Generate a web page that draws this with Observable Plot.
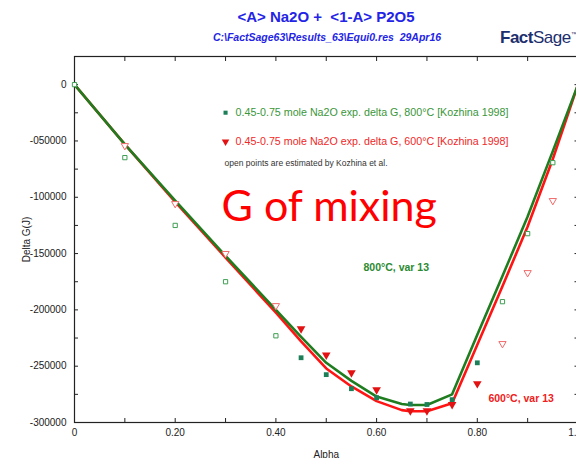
<!DOCTYPE html>
<html>
<head>
<meta charset="utf-8">
<script src="https://cdn.jsdelivr.net/npm/d3@7"></script>
<script src="https://cdn.jsdelivr.net/npm/@observablehq/plot@0.6"></script>
<style>
  body { margin: 0; background: #fff; }
  #wrap { position: relative; width: 576px; height: 458px; overflow: hidden; font-family: "Liberation Sans", Arial, sans-serif; }
  #wrap svg { position: absolute; left: 0; top: 0; }
  .ov { position: absolute; white-space: nowrap; }
  #title { left: 0; width: 652px; top: 8px; text-align: center; color: #2424e6; font-weight: bold; font-size: 15px; }
  #sub { left: 0; width: 654px; top: 31px; text-align: center; color: #2424e6; font-weight: bold; font-style: italic; font-size: 10.5px; }
  #logo { left: 500px; top: 28px; color: #1d2f6e; font-size: 17px; letter-spacing: -0.5px; }
  #logo b { font-weight: 900; }
  #logo sup { font-size: 6px; }
</style>
</head>
<body>
<div id="wrap">
  <div class="ov" id="title">&lt;A&gt; Na2O +&nbsp; &lt;1-A&gt; P2O5</div>
  <div class="ov" id="sub">C:\FactSage63\Results_63\Equi0.res&nbsp; 29Apr16</div>
  <div class="ov" id="logo"><b>Fact</b>Sage<sup>™</sup></div>
</div>
<script>
// calculated curves
const alphaLine = [0, 0.1, 0.2, 0.3, 0.4, 0.45, 0.5, 0.55, 0.6, 0.65, 0.667, 0.7, 0.75, 0.8, 0.85, 0.9, 0.95, 1];
const calc800 = [0, -53000, -103000, -152000, -200000, -224000, -247000, -263000, -277000, -283500, -284500, -284500, -275000, -222000, -170000, -117000, -59000, 0];
const calc600 = [0, -53000, -104000, -153500, -202500, -228000, -252000, -268000, -281000, -289000, -290000, -290000, -283000, -231000, -179000, -126000, -66000, 0];
// experimental points
const expAlpha = [0.45, 0.5, 0.55, 0.6, 0.667, 0.7, 0.75, 0.8];
const exp800 = [-242500, -257500, -270000, -278000, -283600, -284000, -279700, -247000];
const exp600 = [-216700, -240000, -255800, -271000, -289500, -289500, -284000, -265500];
// estimated (open) points
const est800Alpha = [0, 0.1, 0.2, 0.3, 0.4, 0.85, 0.9, 0.95];
const est800 = [0, -64800, -125000, -175000, -223000, -192700, -132300, -69300];
const est600Alpha = [0.1, 0.2, 0.3, 0.4, 0.85, 0.9, 0.95];
const est600 = [-54200, -105700, -150000, -196300, -230000, -167000, -103000];
// ticks
const xMajorTicks = [0, 0.2, 0.4, 0.6, 0.8, 1.0];
const xAllTicks = [0, 0.1, 0.2, 0.3, 0.4, 0.5, 0.6, 0.7, 0.8, 0.9, 1.0];
const yMajorTicks = [0, -50000, -100000, -150000, -200000, -250000, -300000];
const yAllTicks = [0, -25000, -50000, -75000, -100000, -125000, -150000, -175000, -200000, -225000, -250000, -275000, -300000];
// texts
const legendLabels = ["0.45-0.75 mole Na2O exp. delta G, 800°C [Kozhina 1998]", "0.45-0.75 mole Na2O exp. delta G, 600°C [Kozhina 1998]"];
const legendNote = "open points are estimated by Kozhina et al.";
const legendX = [0.300, 0.320];
const legendY = [-24900, -50600, -70200];
const bigLabel = {text: "G of mixing", x: 0.292, y: -108500};
const curveLabels = [
  {text: "800°C, var 13", x: 0.574, y: -162500, color: "#2b8a32"},
  {text: "600°C, var 13", x: 0.822, y: -279000, color: "#f02020"}
];

const GREEN = "#1f7d1f", RED = "#ff1414";
const line800 = alphaLine.map((a, i) => ({a, g: calc800[i]}));
const line600 = alphaLine.map((a, i) => ({a, g: calc600[i]}));
const pts800 = expAlpha.map((a, i) => ({a, g: exp800[i]}));
const pts600 = expAlpha.map((a, i) => ({a, g: exp600[i]}));
const open800 = est800Alpha.map((a, i) => ({a, g: est800[i]}));
const open600 = est600Alpha.map((a, i) => ({a, g: est600[i]}));

const yFmt = d => d === 0 ? "0" : "-" + String(-d).padStart(6, "0");
const xFmt = d => d === 0 ? "0" : d.toFixed(2);
const blank = () => "";

const chart = Plot.plot({
  width: 576,
  height: 458,
  marginLeft: 74,
  marginRight: -1.5,
  marginTop: 56,
  marginBottom: 36,
  style: {fontFamily: "'Liberation Sans', Arial, sans-serif", fontSize: "10px", color: "#222", background: "transparent"},
  x: {domain: [0, 1]},
  y: {domain: [-300000, 25000]},
  marks: [
    Plot.frame({stroke: "#222", strokeWidth: 1.2}),
    Plot.axisX(xAllTicks, {anchor: "bottom", tickSize: 4, insetBottom: 4, tickFormat: blank, label: null}),
    Plot.axisX(xAllTicks, {anchor: "top", tickSize: 4, insetTop: 4, tickFormat: blank, label: null}),
    Plot.axisY(yAllTicks, {anchor: "left", tickSize: 4, insetLeft: 4, tickFormat: blank, label: null}),
    Plot.axisY(yAllTicks, {anchor: "right", tickSize: 4, insetRight: 4, tickFormat: blank, label: null}),
    Plot.axisX(xMajorTicks, {anchor: "bottom", tickSize: 0, tickPadding: 6, tickFormat: xFmt, fontSize: 10,
      label: "Alpha", labelAnchor: "center", labelOffset: 35, labelArrow: "none"}),
    Plot.axisY(yMajorTicks, {anchor: "left", tickSize: 0, tickPadding: 8, tickFormat: yFmt, fontSize: 10,
      label: "Delta G(J)", labelAnchor: "center", labelOffset: 52, labelArrow: "none"}),
    Plot.line(line600, {x: "a", y: "g", stroke: RED, strokeWidth: 2.6}),
    Plot.line(line800, {x: "a", y: "g", stroke: GREEN, strokeWidth: 2.6}),
    Plot.dot(open800, {x: "a", y: "g", symbol: "square", r: 2.4, stroke: "#3f9f52", strokeWidth: 1, fill: "white"}),
    Plot.dot(open600, {x: "a", y: "g", symbol: "triangle", rotate: 180, r: 2.7, stroke: "#f06a6a", strokeWidth: 1, fill: "white"}),
    Plot.dot(pts800, {x: "a", y: "g", symbol: "square", r: 2.7, fill: "#1d7f58", stroke: null}),
    Plot.dot(pts600, {x: "a", y: "g", symbol: "triangle", rotate: 180, r: 3.2, fill: "#e31212", stroke: null}),
    // legend
    Plot.dot([0], {x: legendX[0], y: legendY[0], symbol: "square", r: 2.3, fill: "#1d7f58"}),
    Plot.dot([0], {x: legendX[0], y: legendY[1], symbol: "triangle", rotate: 180, r: 2.8, fill: "#e31212"}),
    Plot.text([legendLabels[0]], {x: legendX[1], y: legendY[0], text: d => d, textAnchor: "start", fill: "#3a963a", fontSize: 10.7}),
    Plot.text([legendLabels[1]], {x: legendX[1], y: legendY[1], text: d => d, textAnchor: "start", fill: "#f02828", fontSize: 10.7}),
    Plot.text([legendNote], {x: legendX[0] - 0.002, y: legendY[2], text: d => d, textAnchor: "start", fill: "#333", fontSize: 8.5}),
    Plot.text([bigLabel], {x: "x", y: "y", text: "text", textAnchor: "start", fill: "#ff0000", fontSize: 43, fontFamily: "Lato, 'Open Sans', sans-serif"}),
    Plot.text(curveLabels, {x: "x", y: "y", text: "text", textAnchor: "start", fill: "color", fontWeight: "bold", fontSize: 10.5})
  ]
});
document.getElementById("wrap").prepend(chart);
</script>
</body>
</html>
